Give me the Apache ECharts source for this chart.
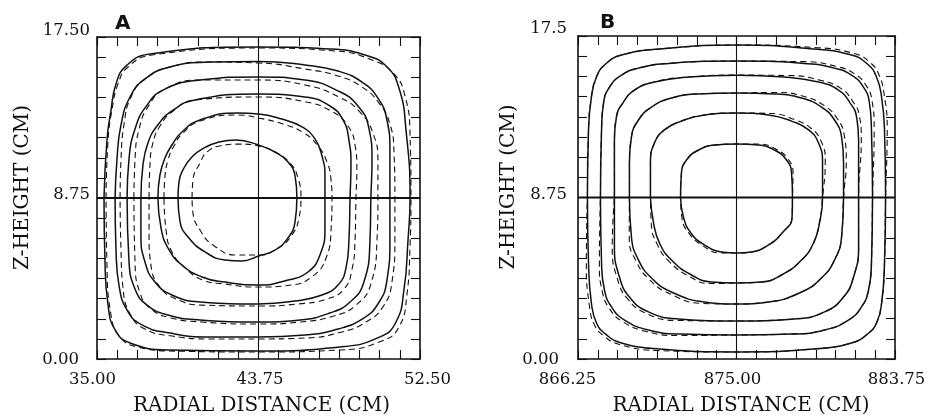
<!DOCTYPE html>
<html><head><meta charset="utf-8">
<script src="https://cdn.jsdelivr.net/npm/echarts/dist/echarts.min.js"></script>
<style>html,body{margin:0;padding:0;background:#fff}#c{width:928px;height:416px}</style>
</head><body><div id="c"></div>
<script>
// ---------- axis ranges & tick labels ----------
const xRangeA = [35, 52.5];
const xRangeB = [866.25, 883.75];
const yRange = [0, 17.5];
const tickStep = 1.09375;
const xTickValuesA = [35, 43.75, 52.5];
const xTickLabelsA = ['35.00', '43.75', '52.50'];
const xTickValuesB = [866.25, 875, 883.75];
const xTickLabelsB = ['866.25', '875.00', '883.75'];
const yTickValues = [0, 8.75, 17.5];
const yTickLabelsA = ['0.00', '8.75', '17.50'];
const yTickLabelsB = ['0.00', '8.75', '17.5'];
const xTitle = 'RADIAL DISTANCE (CM)';
const yTitle = 'Z-HEIGHT (CM)';
const panelNames = ['A', 'B'];

// centre cross-lines
const crossA_v = [[43.75, 0], [43.75, 17.5]];
const crossA_h = [[35, 8.75], [52.5, 8.75]];
const crossB_v = [[875, 0], [875, 17.5]];
const crossB_h = [[866.25, 8.75], [883.75, 8.75]];

// ---------- Panel A, solid contours ----------
const A_S1 = [[35.38,8.75],[35.54,11.90],[35.76,13.53],[36.03,14.95],[36.57,15.92],[37.87,16.58],[43.75,16.96],[47.62,16.85],[49.52,16.52],[50.66,15.92],[51.36,14.73],[51.74,12.45],[51.96,8.75],[51.85,6.47],[51.63,3.75],[51.20,2.01],[50.33,1.20],[48.16,0.65],[43.75,0.43],[38.95,0.49],[36.79,0.87],[35.98,1.58],[35.60,2.93],[35.43,5.38],[35.38,8.75]];
const A_S2 = [[35.98,8.75],[36.08,10.82],[36.30,12.72],[36.79,14.24],[37.60,15.22],[38.95,15.87],[41.12,16.14],[43.75,16.17],[46.27,15.98],[48.06,15.65],[49.36,15.05],[50.22,14.18],[50.71,12.99],[50.87,11.36],[50.87,8.75],[50.87,6.47],[50.71,4.29],[50.22,2.99],[49.36,2.17],[48.06,1.63],[46.27,1.30],[43.75,1.20],[41.12,1.20],[38.95,1.41],[37.44,1.85],[36.63,2.66],[36.19,4.02],[36.03,5.92],[35.98,8.75]];
const A_S3 = [[36.63,8.75],[36.73,10.82],[37.06,12.50],[37.71,13.80],[38.68,14.67],[40.58,15.16],[43.75,15.33],[46.27,15.16],[48.06,14.57],[49.14,13.75],[49.73,12.55],[49.90,10.82],[49.84,8.75],[49.79,6.47],[49.46,4.18],[48.71,3.10],[47.62,2.50],[46.00,2.12],[43.75,2.01],[40.58,2.12],[38.85,2.39],[37.71,2.93],[37.06,3.80],[36.73,5.38],[36.63,8.75]];
const A_S4 = [[37.38,8.75],[37.49,10.54],[37.76,11.74],[38.25,12.66],[39.06,13.48],[40.31,14.08],[43.75,14.40],[46.27,14.24],[47.62,13.75],[48.33,12.99],[48.65,11.90],[48.76,10.54],[48.71,8.75],[48.65,6.47],[48.49,4.95],[48.06,4.02],[47.19,3.48],[45.73,3.15],[43.75,2.99],[40.58,3.10],[39.06,3.48],[38.14,4.18],[37.60,5.27],[37.38,6.74],[37.38,8.75]];
const A_S5 = [[38.30,8.75],[38.41,10.00],[38.68,10.92],[39.06,11.63],[39.60,12.34],[40.58,12.99],[42.64,13.37],[43.75,13.32],[45.02,13.04],[46.11,12.61],[46.81,11.96],[47.19,11.03],[47.35,9.95],[47.35,8.75],[47.35,7.12],[47.08,5.65],[46.43,4.73],[45.35,4.29],[43.75,4.02],[41.93,4.18],[40.69,4.46],[39.60,5.11],[38.85,6.03],[38.47,7.12],[38.30,8.75]];
const A_S6 = [[39.39,8.75],[39.44,9.62],[39.71,10.38],[40.15,10.98],[40.69,11.41],[41.61,11.79],[42.53,11.90],[43.75,11.63],[44.64,11.25],[45.35,10.71],[45.73,9.95],[45.83,8.75],[45.73,7.45],[45.35,6.58],[44.64,5.92],[43.75,5.60],[42.85,5.33],[41.93,5.38],[40.85,5.82],[39.98,6.58],[39.50,7.45],[39.39,8.75]];

// ---------- Panel A, dashed contours ----------
const A_D1 = [[35.49,8.75],[35.60,11.90],[35.81,13.53],[36.14,14.95],[36.68,15.87],[37.98,16.52],[43.75,16.90],[47.89,16.74],[49.90,16.25],[51.09,15.49],[51.69,14.29],[51.96,12.17],[52.01,8.75],[51.96,6.20],[51.79,3.48],[51.36,1.74],[50.44,0.98],[48.16,0.49],[43.75,0.38],[39.23,0.43],[37.22,0.65],[36.25,1.20],[35.76,2.39],[35.54,5.11],[35.49,8.75]];
const A_D2 = [[36.25,8.75],[36.30,10.82],[36.46,12.72],[36.84,14.24],[37.60,15.22],[38.95,15.87],[41.12,16.14],[43.75,16.09],[46.27,15.76],[48.06,15.38],[49.36,14.78],[50.28,13.91],[50.87,12.77],[51.09,11.25],[51.14,8.75],[51.14,6.47],[50.98,4.18],[50.49,2.83],[49.57,2.01],[48.27,1.47],[46.27,1.14],[43.75,1.09],[41.12,1.09],[39.06,1.25],[37.60,1.63],[36.79,2.45],[36.41,3.86],[36.30,5.92],[36.25,8.75]];
const A_D3 = [[37.00,8.75],[37.06,10.82],[37.28,12.50],[37.82,13.80],[38.68,14.67],[40.58,15.16],[43.75,15.16],[46.27,14.89],[48.11,14.24],[49.25,13.42],[49.95,12.28],[50.22,10.71],[50.22,8.75],[50.17,6.47],[49.84,4.08],[49.03,2.93],[47.84,2.34],[46.00,2.01],[43.75,1.90],[40.69,2.01],[39.01,2.23],[37.93,2.72],[37.33,3.59],[37.06,5.27],[37.00,8.75]];
const A_D4 = [[37.82,8.75],[37.87,10.54],[38.03,11.74],[38.41,12.66],[39.12,13.48],[40.31,14.08],[43.75,14.24],[46.32,13.97],[47.78,13.42],[48.60,12.66],[48.98,11.63],[49.08,10.38],[49.03,8.75],[48.98,6.47],[48.81,4.84],[48.38,3.80],[47.46,3.26],[45.89,2.99],[43.75,2.88],[40.69,2.93],[39.28,3.26],[38.41,3.91],[37.93,5.05],[37.82,6.74],[37.82,8.75]];
const A_D5 = [[38.63,8.75],[38.68,9.89],[38.85,10.82],[39.17,11.58],[39.66,12.28],[40.58,12.93],[42.64,13.26],[43.75,13.10],[45.08,12.77],[46.21,12.28],[46.97,11.58],[47.46,10.71],[47.68,9.73],[47.73,8.75],[47.68,7.01],[47.41,5.49],[46.70,4.51],[45.51,4.02],[43.75,3.91],[41.88,4.08],[40.74,4.29],[39.77,4.95],[39.06,5.82],[38.74,7.01],[38.63,8.75]];
const A_D6 = [[40.15,8.75],[40.20,9.73],[40.58,10.65],[40.96,11.25],[41.66,11.58],[42.75,11.68],[43.75,11.58],[44.64,11.25],[45.46,10.65],[45.89,9.84],[46.05,8.75],[45.94,7.66],[45.56,6.74],[44.81,6.03],[43.75,5.65],[42.58,5.65],[41.28,6.20],[40.58,7.01],[40.20,7.93],[40.15,8.75]];

// ---------- Panel B, solid contours ----------
const B_S1 = [[866.77,8.75],[866.83,12.41],[866.99,14.19],[867.27,15.28],[867.77,15.98],[868.65,16.47],[870.75,16.79],[875.00,17.01],[879.25,16.79],[881.35,16.47],[882.23,15.98],[882.73,15.28],[883.01,14.19],[883.17,12.41],[883.23,8.75],[883.17,5.20],[883.01,3.03],[882.73,1.95],[882.23,1.35],[881.35,0.87],[879.25,0.54],[875.00,0.38],[870.75,0.54],[868.65,0.87],[867.77,1.35],[867.27,1.95],[866.99,3.03],[866.83,5.20],[866.77,8.75]];
const B_S2 = [[867.49,8.75],[867.55,12.41],[867.66,13.87],[867.99,14.73],[868.65,15.38],[869.59,15.76],[871.41,16.03],[875.00,16.14],[878.59,16.03],[880.41,15.76],[881.35,15.38],[882.01,14.73],[882.34,13.87],[882.45,12.41],[882.51,8.75],[882.45,5.20],[882.29,3.74],[881.90,2.82],[881.18,2.11],[879.86,1.57],[878.04,1.35],[875.00,1.30],[871.96,1.35],[870.14,1.57],[868.82,2.11],[868.10,2.82],[867.71,3.74],[867.55,5.20],[867.49,8.75]];
const B_S3 = [[868.26,8.75],[868.26,11.86],[868.37,13.11],[868.76,13.92],[869.37,14.57],[870.47,15.01],[872.35,15.28],[875.00,15.38],[877.65,15.28],[879.53,15.01],[880.63,14.57],[881.24,13.92],[881.63,13.11],[881.74,11.86],[881.74,8.75],[881.74,6.07],[881.46,4.44],[880.91,3.36],[879.86,2.55],[878.20,2.17],[875.00,2.06],[871.80,2.17],[870.14,2.55],[869.09,3.36],[868.54,4.44],[868.26,6.07],[868.26,8.75]];
const B_S4 = [[869.09,8.75],[869.09,10.62],[869.20,12.03],[869.59,12.95],[870.31,13.65],[871.41,14.14],[872.90,14.36],[875.00,14.41],[877.10,14.36],[878.59,14.14],[879.69,13.65],[880.41,12.95],[880.80,12.03],[880.91,10.62],[880.91,8.75],[880.80,6.61],[880.41,5.36],[879.69,4.39],[878.59,3.63],[876.77,3.09],[875.00,2.98],[873.23,3.09],[871.41,3.63],[870.31,4.39],[869.59,5.36],[869.20,6.61],[869.09,8.75]];
const B_S5 = [[870.25,8.75],[870.25,10.62],[870.47,11.70],[871.02,12.41],[871.96,12.89],[873.23,13.22],[875.00,13.33],[876.77,13.22],[878.04,12.89],[878.98,12.41],[879.53,11.70],[879.75,10.62],[879.75,8.75],[879.58,7.37],[879.25,6.28],[878.59,5.36],[877.48,4.55],[876.38,4.17],[875.00,4.12],[873.62,4.17],[872.52,4.55],[871.41,5.36],[870.75,6.28],[870.42,7.37],[870.25,8.75]];
const B_S6 = [[871.91,8.75],[871.96,10.08],[872.24,10.78],[872.90,11.32],[873.79,11.59],[875.00,11.65],[876.21,11.59],[877.10,11.32],[877.76,10.78],[878.04,10.08],[878.09,8.75],[878.07,7.69],[877.52,6.83],[876.77,6.18],[875.83,5.80],[875.00,5.74],[874.17,5.80],[873.23,6.18],[872.48,6.83],[872.07,7.69],[871.91,8.75]];

// ---------- Panel B, dashed contours ----------
const B_D1 = [[866.77,8.75],[866.83,12.41],[866.99,14.19],[867.27,15.28],[867.77,15.98],[868.65,16.47],[870.75,16.79],[875.00,17.01],[879.40,16.87],[881.50,16.55],[882.38,16.06],[882.88,15.36],[883.16,14.27],[883.32,12.49],[883.23,8.75],[883.17,5.20],[883.01,3.03],[882.73,1.95],[882.23,1.35],[881.35,0.87],[879.25,0.54],[875.00,0.38],[870.63,0.46],[868.53,0.79],[867.65,1.27],[867.15,1.87],[866.87,2.95],[866.71,5.12],[866.77,8.75]];
const B_D2 = [[867.49,8.75],[867.55,12.41],[867.66,13.87],[867.99,14.73],[868.65,15.38],[869.59,15.76],[871.41,16.03],[875.00,16.14],[878.74,16.11],[880.56,15.84],[881.50,15.46],[882.16,14.81],[882.49,13.95],[882.60,12.49],[882.51,8.75],[882.45,5.20],[882.29,3.74],[881.90,2.82],[881.18,2.11],[879.86,1.57],[878.04,1.35],[875.00,1.30],[871.84,1.27],[870.02,1.49],[868.70,2.03],[867.98,2.74],[867.59,3.66],[867.43,5.12],[867.49,8.75]];
const B_D3 = [[868.26,8.75],[868.26,11.86],[868.37,13.11],[868.76,13.92],[869.37,14.57],[870.47,15.01],[872.35,15.28],[875.00,15.38],[877.80,15.36],[879.68,15.09],[880.78,14.65],[881.39,14.00],[881.78,13.19],[881.89,11.94],[881.74,8.75],[881.74,6.07],[881.46,4.44],[880.91,3.36],[879.86,2.55],[878.20,2.17],[875.00,2.06],[871.68,2.09],[870.02,2.47],[868.97,3.28],[868.42,4.36],[868.14,5.99],[868.26,8.75]];
const B_D4 = [[869.09,8.75],[869.09,10.62],[869.20,12.03],[869.59,12.95],[870.31,13.65],[871.41,14.14],[872.90,14.36],[875.00,14.41],[877.25,14.44],[878.74,14.22],[879.84,13.73],[880.56,13.03],[880.95,12.11],[881.06,10.70],[880.91,8.75],[880.80,6.61],[880.41,5.36],[879.69,4.39],[878.59,3.63],[876.77,3.09],[875.00,2.98],[873.11,3.01],[871.29,3.55],[870.19,4.31],[869.47,5.28],[869.08,6.53],[869.09,8.75]];
const B_D5 = [[870.25,8.75],[870.25,10.62],[870.47,11.70],[871.02,12.41],[871.96,12.89],[873.23,13.22],[875.00,13.33],[876.92,13.30],[878.19,12.97],[879.13,12.49],[879.68,11.78],[879.90,10.70],[879.75,8.75],[879.58,7.37],[879.25,6.28],[878.59,5.36],[877.48,4.55],[876.38,4.17],[875.00,4.12],[873.50,4.09],[872.40,4.47],[871.29,5.28],[870.63,6.20],[870.30,7.29],[870.25,8.75]];
const B_D6 = [[871.91,8.75],[871.96,10.08],[872.24,10.78],[872.90,11.32],[873.79,11.59],[875.00,11.65],[876.29,11.64],[877.18,11.37],[877.84,10.83],[878.12,10.13],[878.09,8.75],[878.07,7.69],[877.52,6.83],[876.77,6.18],[875.83,5.80],[875.00,5.74],[874.09,5.75],[873.15,6.13],[872.40,6.78],[871.99,7.64],[871.91,8.75]];

const solidA = [A_S1, A_S2, A_S3, A_S4, A_S5, A_S6];
const dashedA = [A_D1, A_D2, A_D3, A_D4, A_D5, A_D6];
const solidB = [B_S1, B_S2, B_S3, B_S4, B_S5, B_S6];
const dashedB = [B_D1, B_D2, B_D3, B_D4, B_D5, B_D6];

// ---------- styling ----------
const INK = '#111';
const SERIF = "'DejaVu Serif', 'Liberation Serif', serif";
const tickFont = { fontFamily: SERIF, fontSize: 16.5, color: INK };

function mkFormatter(vals, labels, keys) {
  return function (v) {
    const i = vals.findIndex(t => Math.abs(t - v) < 1e-6);
    return i < 0 ? '' : '{' + keys[i] + '|' + labels[i] + '}';
  };
}
function rich(map) {
  const r = {};
  Object.keys(map).forEach(k => { r[k] = Object.assign({}, tickFont, { padding: map[k] }); });
  return r;
}

function xAxes(grid, range, vals, labels, keys, richMap, namePad) {
  const base = {
    gridIndex: grid, type: 'value', min: range[0], max: range[1], interval: tickStep,
    axisLine: { show: true, onZero: false, lineStyle: { color: INK, width: 1.6 } },
    axisTick: { show: true, inside: true, length: 9, lineStyle: { color: INK, width: 1.1 } },
    splitLine: { show: false }
  };
  return [
    Object.assign({}, base, {
      position: 'bottom',
      axisLabel: Object.assign({ show: true, margin: 12, formatter: mkFormatter(vals, labels, keys), rich: rich(richMap) }, tickFont),
      name: xTitle, nameLocation: 'middle', nameGap: 37,
      nameTextStyle: { fontFamily: SERIF, fontSize: 20, color: INK, padding: namePad }
    }),
    Object.assign({}, base, { position: 'top', axisLabel: { show: false } })
  ];
}
function yAxes(grid, labels, keys, richMap, margin, gap) {
  const base = {
    gridIndex: grid, type: 'value', min: yRange[0], max: yRange[1], interval: tickStep,
    axisLine: { show: true, onZero: false, lineStyle: { color: INK, width: 1.6 } },
    axisTick: { show: true, inside: true, length: 9, lineStyle: { color: INK, width: 1.1 } },
    splitLine: { show: false }
  };
  return [
    Object.assign({}, base, {
      position: 'left',
      axisLabel: Object.assign({ show: true, margin: margin, formatter: mkFormatter(yTickValues, labels, keys), rich: rich(richMap) }, tickFont),
      name: yTitle, nameLocation: 'middle', nameGap: gap,
      nameTextStyle: { fontFamily: SERIF, fontSize: 20, color: INK, padding: [0, 0, 0, 21] }
    }),
    Object.assign({}, base, { position: 'right', axisLabel: { show: false } })
  ];
}

const series = [];
function addLines(list, xi, yi, dashed) {
  list.forEach(d => series.push({
    type: 'line', xAxisIndex: xi, yAxisIndex: yi, data: d, smooth: 0.5,
    symbol: 'none', showSymbol: false, silent: true, clip: false,
    lineStyle: dashed ? { color: INK, width: 1.1, type: [6, 4] } : { color: INK, width: 1.5 }
  }));
}
function addCross(v, h, xi, yi) {
  series.push({ type: 'line', xAxisIndex: xi, yAxisIndex: yi, data: v, symbol: 'none', silent: true, lineStyle: { color: INK, width: 1.1 } });
  series.push({ type: 'line', xAxisIndex: xi, yAxisIndex: yi, data: h, symbol: 'none', silent: true, lineStyle: { color: INK, width: 1.8 } });
}
addCross(crossA_v, crossA_h, 0, 0);
addCross(crossB_v, crossB_h, 2, 2);
addLines(dashedA, 0, 0, true);
addLines(solidA, 0, 0, false);
addLines(dashedB, 2, 2, true);
addLines(solidB, 2, 2, false);

const letterStyle = { fontFamily: "'DejaVu Sans', 'Liberation Sans', sans-serif", fontSize: 20, fontWeight: 'bold', color: INK };
const chart = echarts.init(document.getElementById('c'), null, { renderer: 'canvas' });
chart.setOption({
  animation: false,
  backgroundColor: '#fff',
  title: [
    { text: panelNames[0], left: 115, top: 14, padding: 0, textStyle: letterStyle },
    { text: panelNames[1], left: 600, top: 13, padding: 0, textStyle: letterStyle }
  ],
  grid: [
    { left: 97, top: 37, width: 323, height: 322, containLabel: false, outerBoundsMode: 'none' },
    { left: 578, top: 36, width: 317, height: 323, containLabel: false, outerBoundsMode: 'none' }
  ],
  xAxis: [].concat(
    xAxes(0, xRangeA, xTickValuesA, xTickLabelsA, ['l', 'c', 'r'], { l: [0, 9, 0, 0], c: [0, 0, 0, 3], r: [0, 0, 0, 15] }, [0, 0, 0, 6]),
    xAxes(1, xRangeB, xTickValuesB, xTickLabelsB, ['l', 'c', 'r'], { l: [0, 21, 0, 0], c: [0, 8, 0, 0], r: [0, 0, 0, 3] }, [0, 0, 0, 9])
  ),
  yAxis: [].concat(
    yAxes(0, yTickLabelsA, ['b', 'm', 't'], { b: [2, 11, 0, 0], m: [0, 0, 6, 0], t: [0, 0, 12, 0] }, 7, 64),
    yAxes(1, yTickLabelsB, ['b', 'm', 't'], { b: [2, 8, 0, 0], m: [0, 0, 5, 0], t: [0, 0, 14, 0] }, 11, 54)
  ),
  series: series
});
</script>
</body></html>
